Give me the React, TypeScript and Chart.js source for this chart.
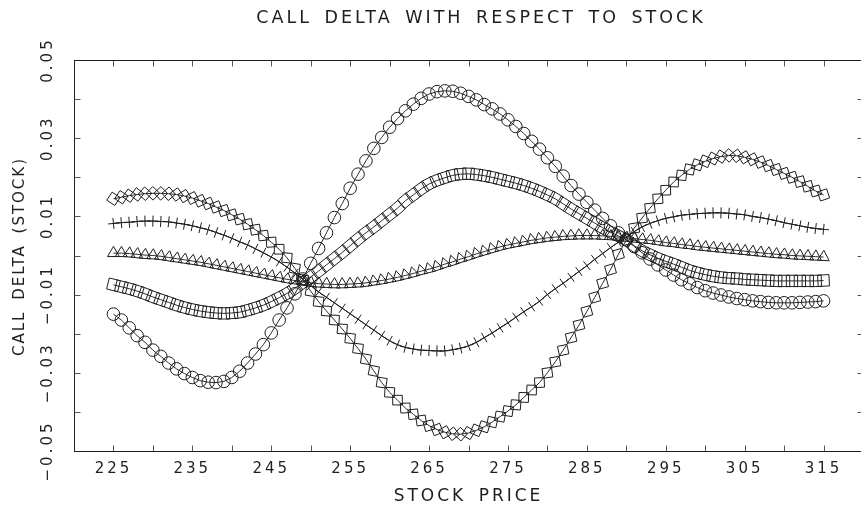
import React, { useEffect, useRef } from 'react';
import { Chart, registerables } from 'chart.js';

Chart.register(...registerables);

const chartTitle = 'CALL DELTA WITH RESPECT TO STOCK';
const xAxisTitle = 'STOCK PRICE';
const yAxisTitle = 'CALL DELTA (STOCK)';

const stockPrices = [
  225, 226, 227, 228, 229, 230, 231, 232, 233, 234,
  235, 236, 237, 238, 239, 240, 241, 242, 243, 244,
  245, 246, 247, 248, 249, 250, 251, 252, 253, 254,
  255, 256, 257, 258, 259, 260, 261, 262, 263, 264,
  265, 266, 267, 268, 269, 270, 271, 272, 273, 274,
  275, 276, 277, 278, 279, 280, 281, 282, 283, 284,
  285, 286, 287, 288, 289, 290, 291, 292, 293, 294,
  295, 296, 297, 298, 299, 300, 301, 302, 303, 304,
  305, 306, 307, 308, 309, 310, 311, 312, 313, 314,
  315,
];

const circleDelta = [
  -0.0150, -0.0165, -0.0185, -0.0205, -0.0222, -0.0242, -0.0258, -0.0275, -0.0290, -0.0302,
  -0.0312, -0.0320, -0.0324, -0.0325, -0.0322, -0.0312, -0.0296, -0.0275, -0.0252, -0.0228,
  -0.0198, -0.0165, -0.0134, -0.0098, -0.0060, -0.0020, 0.0018, 0.0058, 0.0097, 0.0133,
  0.0172, 0.0208, 0.0242, 0.0274, 0.0302, 0.0328, 0.0350, 0.0370, 0.0387, 0.0402,
  0.0413, 0.0419, 0.0421, 0.0420, 0.0415, 0.0407, 0.0398, 0.0386, 0.0375, 0.0362,
  0.0347, 0.0330, 0.0312, 0.0292, 0.0272, 0.0250, 0.0228, 0.0203, 0.0179, 0.0157,
  0.0136, 0.0116, 0.0095, 0.0076, 0.0058, 0.0040, 0.0023, 0.0007, -0.0009, -0.0024,
  -0.0037, -0.0050, -0.0062, -0.0072, -0.0082, -0.0090, -0.0096, -0.0101, -0.0106, -0.0110,
  -0.0113, -0.0116, -0.0118, -0.0120, -0.0121, -0.0121, -0.0121, -0.0120, -0.0119, -0.0118,
  -0.0116,
];

const squareDelta = [
  -0.0075, -0.0080, -0.0085, -0.0091, -0.0098, -0.0106, -0.0113, -0.0120, -0.0127, -0.0133,
  -0.0138, -0.0142, -0.0145, -0.0147, -0.0148, -0.0147, -0.0145, -0.0140, -0.0134, -0.0127,
  -0.0118, -0.0108, -0.0097, -0.0084, -0.0069, -0.0055, -0.0040, -0.0024, -0.0008, 0.0008,
  0.0025, 0.0042, 0.0058, 0.0073, 0.0089, 0.0105, 0.0121, 0.0140, 0.0155, 0.0170,
  0.0183, 0.0192, 0.0199, 0.0205, 0.0208, 0.0209, 0.0207, 0.0204, 0.0200, 0.0195,
  0.0190, 0.0185, 0.0179, 0.0172, 0.0164, 0.0155, 0.0145, 0.0132, 0.0119, 0.0107,
  0.0095, 0.0083, 0.0071, 0.0060, 0.0050, 0.0040, 0.0025, 0.0012, 0.0002, -0.0007,
  -0.0015, -0.0022, -0.0030, -0.0038, -0.0044, -0.0049, -0.0053, -0.0056, -0.0058, -0.0059,
  -0.0061, -0.0062, -0.0063, -0.0064, -0.0065, -0.0065, -0.0065, -0.0065, -0.0065, -0.0065,
  -0.0064,
];

const triangleDelta = [
  0.0006, 0.0006, 0.0005, 0.0003, 0.0001, 0.0000, -0.0002, -0.0005, -0.0008, -0.0011,
  -0.0014, -0.0017, -0.0021, -0.0025, -0.0029, -0.0033, -0.0037, -0.0041, -0.0045, -0.0049,
  -0.0053, -0.0057, -0.0061, -0.0064, -0.0067, -0.0070, -0.0072, -0.0073, -0.0074, -0.0074,
  -0.0073, -0.0072, -0.0070, -0.0067, -0.0064, -0.0060, -0.0056, -0.0051, -0.0046, -0.0040,
  -0.0035, -0.0029, -0.0022, -0.0016, -0.0009, -0.0003, 0.0004, 0.0010, 0.0016, 0.0022,
  0.0027, 0.0031, 0.0035, 0.0039, 0.0042, 0.0045, 0.0047, 0.0049, 0.0050, 0.0051,
  0.0051, 0.0051, 0.0050, 0.0049, 0.0047, 0.0045, 0.0043, 0.0041, 0.0039, 0.0036,
  0.0033, 0.0031, 0.0028, 0.0026, 0.0023, 0.0021, 0.0019, 0.0017, 0.0015, 0.0013,
  0.0011, 0.0009, 0.0007, 0.0005, 0.0003, 0.0002, 0.0000, -0.0001, -0.0002, -0.0003,
  -0.0004,
];

const plusDelta = [
  0.0082, 0.0084, 0.0085, 0.0087, 0.0088, 0.0088, 0.0087, 0.0086, 0.0083, 0.0080,
  0.0076, 0.0071, 0.0066, 0.0059, 0.0052, 0.0044, 0.0035, 0.0027, 0.0017, 0.0007,
  -0.0004, -0.0016, -0.0030, -0.0045, -0.0061, -0.0077, -0.0093, -0.0107, -0.0121, -0.0135,
  -0.0149, -0.0163, -0.0177, -0.0191, -0.0205, -0.0218, -0.0228, -0.0235, -0.0239, -0.0242,
  -0.0243, -0.0244, -0.0244, -0.0241, -0.0237, -0.0231, -0.0222, -0.0210, -0.0198, -0.0185,
  -0.0172, -0.0158, -0.0144, -0.0131, -0.0117, -0.0100, -0.0085, -0.0071, -0.0056, -0.0041,
  -0.0026, -0.0010, 0.0005, 0.0020, 0.0034, 0.0047, 0.0061, 0.0073, 0.0082, 0.0089,
  0.0095, 0.0099, 0.0103, 0.0105, 0.0107, 0.0108, 0.0109, 0.0109, 0.0108, 0.0106,
  0.0104, 0.0100, 0.0097, 0.0093, 0.0089, 0.0084, 0.0080, 0.0076, 0.0072, 0.0069,
  0.0067,
];

const diamondDelta = [
  0.0145, 0.0149, 0.0153, 0.0156, 0.0158, 0.0159, 0.0159, 0.0158, 0.0156, 0.0152,
  0.0147, 0.0140, 0.0133, 0.0124, 0.0115, 0.0104, 0.0093, 0.0080, 0.0066, 0.0051,
  0.0034, 0.0016, -0.0006, -0.0033, -0.0062, -0.0091, -0.0118, -0.0142, -0.0165, -0.0188,
  -0.0212, -0.0238, -0.0265, -0.0295, -0.0325, -0.0350, -0.0370, -0.0390, -0.0406, -0.0422,
  -0.0435, -0.0445, -0.0452, -0.0456, -0.0457, -0.0454, -0.0447, -0.0438, -0.0426, -0.0412,
  -0.0398, -0.0382, -0.0363, -0.0344, -0.0325, -0.0300, -0.0272, -0.0242, -0.0210, -0.0178,
  -0.0143, -0.0107, -0.0071, -0.0036, 0.0003, 0.0040, 0.0070, 0.0096, 0.0121, 0.0145,
  0.0167, 0.0188, 0.0205, 0.0220, 0.0232, 0.0241, 0.0248, 0.0253, 0.0256, 0.0255,
  0.0251, 0.0246, 0.0239, 0.0230, 0.0220, 0.0210, 0.0200, 0.0189, 0.0177, 0.0165,
  0.0155,
];

const FONT = "'DejaVu Sans', 'Liberation Sans', sans-serif";
const INK = '#1e1e1e';
const LINE = '#2a2a2a';

// rotate each marker along the local direction of its curve (pixel space)
function slopeRotation(ctx: any): number {
  if (ctx.type !== 'data') return 0;
  const chart = ctx.chart;
  const xs = chart.scales.x;
  const ys = chart.scales.y;
  const data = ctx.dataset.data;
  const i = ctx.dataIndex;
  if (!xs || !ys || !data || i == null) return 0;
  const a = data[Math.max(0, i - 1)];
  const b = data[Math.min(data.length - 1, i + 1)];
  const dx = xs.getPixelForValue(b.x) - xs.getPixelForValue(a.x);
  const dy = ys.getPixelForValue(b.y) - ys.getPixelForValue(a.y);
  if (!isFinite(dx) || !isFinite(dy)) return 0;
  return (Math.atan2(dy, dx) * 180) / Math.PI;
}

const framePlugin = {
  id: 'frameTicks',
  beforeDraw(chart: any) {
    const c = chart.ctx as any;
    c.letterSpacing = '3px';
    c.wordSpacing = '4px';
  },
  beforeDatasetsDraw(chart: any) {
    const { ctx, chartArea: a, scales } = chart;
    const x = scales.x;
    const y = scales.y;
    ctx.save();
    ctx.strokeStyle = INK;
    ctx.lineWidth = 1;
    const L = Math.round(a.left) + 0.5;
    const T = Math.round(a.top) + 0.5;
    const B = Math.round(a.bottom) + 0.5;
    const R = Math.round(a.right) + 0.5;
    ctx.strokeRect(L, T, R - L, B - T);
    ctx.strokeStyle = '#555';
    const len = 6;
    ctx.beginPath();
    x.ticks.forEach((t: any) => {
      if (t.value <= x.min || t.value >= x.max) return;
      const px = Math.round(x.getPixelForValue(t.value)) + 0.5;
      ctx.moveTo(px, B);
      ctx.lineTo(px, B - len);
      ctx.moveTo(px, T);
      ctx.lineTo(px, T + len);
    });
    y.ticks.forEach((t: any) => {
      if (t.value <= y.min + 1e-9 || t.value >= y.max - 1e-9) return;
      const py = Math.round(y.getPixelForValue(t.value)) + 0.5;
      ctx.moveTo(L, py);
      ctx.lineTo(L + len, py);
      ctx.moveTo(R, py);
      ctx.lineTo(R - len, py);
    });
    ctx.stroke();
    ctx.restore();
  },
  afterDraw(chart: any) {
    const ctx = chart.ctx as any;
    const a = chart.chartArea;
    ctx.save();
    ctx.fillStyle = INK;
    ctx.textAlign = 'center';
    ctx.textBaseline = 'middle';
    // main title
    ctx.letterSpacing = '3px';
    ctx.wordSpacing = '4px';
    ctx.font = `17.5px ${FONT}`;
    ctx.fillText(chartTitle, 481, 18.5);
    // y axis title
    ctx.translate(20, (a.top + a.bottom) / 2 + 1);
    ctx.rotate(-Math.PI / 2);
    ctx.letterSpacing = '2px';
    ctx.wordSpacing = '4px';
    ctx.font = `15px ${FONT}`;
    ctx.fillText(yAxisTitle, 0, 0);
    ctx.restore();
  },
};

const seriesDefs = [
  { label: 'circles', values: circleDelta, style: 'circle', radius: 6.3 },
  { label: 'squares', values: squareDelta, style: 'rect', radius: 8 },
  { label: 'triangles', values: triangleDelta, style: 'triangle', radius: 6.8 },
  { label: 'plus', values: plusDelta, style: 'cross', radius: 5.5 },
  { label: 'diamonds', values: diamondDelta, style: 'rectRot', radius: 6.8 },
];

function xLabel(v: number): string {
  const n = Math.round(v);
  return n % 10 === 5 ? String(n) : '';
}

function yLabel(v: number): string {
  const n = Math.round(v * 100);
  if (n % 2 === 0) return '';
  const s = (Math.abs(n) / 100).toFixed(2);
  return n < 0 ? '\u2212' + s : s;
}

export default function App() {
  const ref = useRef<HTMLCanvasElement | null>(null);

  useEffect(() => {
    if (!ref.current) return;
    const chart = new Chart(ref.current, {
      type: 'line',
      data: {
        datasets: seriesDefs.map((s) => ({
          label: s.label,
          data: stockPrices.map((x, i) => ({ x, y: s.values[i] })),
          pointStyle: s.style as any,
          pointRadius: s.radius,
          pointHoverRadius: s.radius,
          pointRotation: slopeRotation as any,
          pointBorderColor: INK,
          pointBackgroundColor: 'rgba(0,0,0,0)',
          pointBorderWidth: 1,
          borderColor: LINE,
          borderWidth: 1,
          fill: false,
          tension: 0,
        })),
      },
      options: {
        responsive: false,
        animation: false,
        devicePixelRatio: 1,
        events: [],
        layout: { padding: { top: 60, left: 0, right: 0, bottom: 0 } },
        plugins: {
          legend: { display: false },
          tooltip: { enabled: false },
          title: { display: false },
        },
        scales: {
          x: {
            type: 'linear',
            min: 220,
            max: 320,
            afterFit: (s: any) => {
              s.height = 56;
            },
            grid: { display: false, drawTicks: false },
            border: { display: false },
            ticks: {
              stepSize: 5,
              autoSkip: false,
              minRotation: 0,
              maxRotation: 0,
              padding: 9,
              color: INK,
              font: { family: FONT, size: 15 },
              callback: (v: any) => xLabel(Number(v)),
            },
            title: {
              display: true,
              text: xAxisTitle,
              color: INK,
              font: { family: FONT, size: 17, lineHeight: 1.2 },
              padding: { top: 0, bottom: 0 },
            },
          },
          y: {
            type: 'linear',
            min: -0.05,
            max: 0.05,
            afterFit: (s: any) => {
              s.width = 74;
            },
            grid: { display: false, drawTicks: false },
            border: { display: false },
            ticks: {
              stepSize: 0.01,
              autoSkip: false,
              minRotation: 90,
              maxRotation: 90,
              crossAlign: 'center',
              padding: 3,
              color: INK,
              font: { family: FONT, size: 15 },
              callback: (v: any) => yLabel(Number(v)),
            },
            title: { display: false },
          },
        },
      },
      plugins: [framePlugin],
    });
    return () => chart.destroy();
  }, []);

  return (
    <div
      style={{
        position: 'fixed',
        left: 0,
        top: 0,
        width: 861,
        height: 507,
        overflow: 'hidden',
        background: '#ffffff',
      }}
    >
      <canvas ref={ref} width={872} height={507} style={{ display: 'block' }} />
    </div>
  );
}
